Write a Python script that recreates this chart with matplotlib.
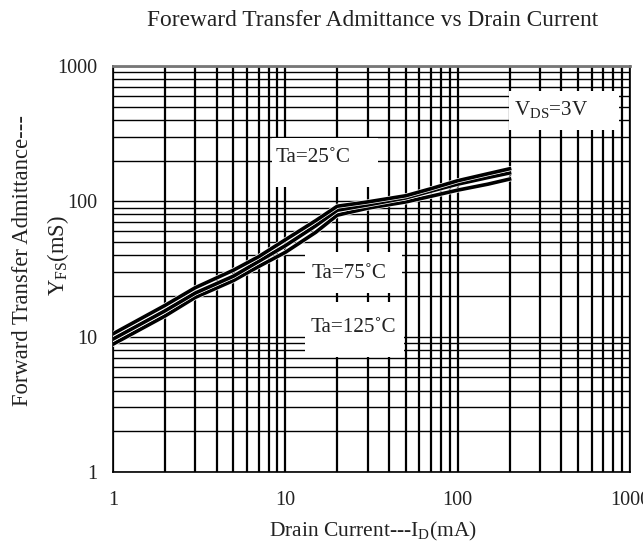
import numpy as np
import matplotlib
matplotlib.use('Agg')
import matplotlib.pyplot as plt
import matplotlib.patheffects as pe
from matplotlib.patches import Rectangle
from matplotlib.ticker import LogLocator, FixedFormatter, FixedLocator, NullFormatter

plt.rcParams['font.family'] = ['Liberation Serif', 'DejaVu Serif']
plt.rcParams['mathtext.fontset'] = 'custom'
plt.rcParams['mathtext.rm'] = 'Liberation Serif'

# drain current (mA) and forward transfer admittance (mS)
drain_current = [1, 2, 3, 5, 7, 10, 15, 20, 30, 50, 70, 100, 150, 200]
yfs_25 = [10.5, 17, 23, 31, 39, 52, 72, 92, 99, 110, 124, 142, 160, 174]
yfs_75 = [9.6, 15.5, 21, 28, 36, 47, 66, 86, 94, 106, 119, 134, 150, 162]
yfs_125 = [8.8, 14.2, 19.5, 26, 33, 42, 59, 79, 89, 99, 109, 121, 134, 146]

x_ticks = [1, 10, 100, 1000]
x_tick_labels = ['1', '10', '100', '1000']
y_ticks = [1, 10, 100, 1000]
y_tick_labels = ['1', '10', '100', '1000']

W, H = 643, 549
fig = plt.figure(figsize=(W / 100, H / 100), dpi=100)
ax = fig.add_axes([113 / W, (H - 472) / H, (630 - 113) / W, (472 - 66) / H])

ax.set_xscale('log')
ax.set_yscale('log')
ax.set_xlim(1, 1000)
ax.set_ylim(1, 1000)

ax.xaxis.set_major_locator(FixedLocator(x_ticks))
ax.xaxis.set_major_formatter(FixedFormatter(x_tick_labels))
ax.yaxis.set_major_locator(FixedLocator(y_ticks))
ax.yaxis.set_major_formatter(FixedFormatter(y_tick_labels))
ax.xaxis.set_minor_locator(LogLocator(base=10, subs=np.arange(2, 10)))
ax.yaxis.set_minor_locator(LogLocator(base=10, subs=np.arange(2, 10)))
ax.xaxis.set_minor_formatter(NullFormatter())
ax.yaxis.set_minor_formatter(NullFormatter())

ax.set_axisbelow(True)
ax.grid(True, which='both', axis='x', color='black', lw=1.6)
ax.grid(True, which='both', axis='y', color='black', lw=1.0)
ax.tick_params(which='both', length=0, labelsize=14.5, labelcolor='#222222')
ax.tick_params(axis='x', pad=14)
ax.tick_params(axis='y', pad=11)
for s in ax.spines.values():
    s.set_color('black')
    s.set_linewidth(1.2)
ax.spines['top'].set_color('#777777')
ax.spines['top'].set_linewidth(2)

stroke = [pe.Stroke(linewidth=3.6, foreground='white'), pe.Normal()]
for ys in (yfs_125, yfs_75, yfs_25):
    ax.plot(drain_current, ys, color='black', lw=2.6, path_effects=stroke,
            solid_joinstyle='miter', zorder=4)


def px2data(px, py):
    return 10 ** ((px - 113) / 172.3), 10 ** ((472 - py) / 135.3)


# white label boxes covering the grid (pixel extents)
boxes = [(509, 91, 619, 130), (272, 138, 378, 187), (305, 252, 402, 293), (305, 302, 404, 357)]
for x0, y0, x1, y1 in boxes:
    a = px2data(x0, y1)
    b = px2data(x1, y0)
    ax.add_patch(Rectangle(a, b[0] - a[0], b[1] - a[1], facecolor='white',
                           edgecolor='none', zorder=3))

labels = [(514, 110, r'V$_{\mathrm{DS}}$=3V'), (276, 158, 'Ta=25˚C'),
          (312, 274, 'Ta=75˚C'), (311, 328, 'Ta=125˚C')]
for px, py, t in labels:
    x, y = px2data(px, py)
    ax.text(x, y, t, fontsize=15.2, ha='left', va='center', zorder=5, color='#222222')

fig.text(373 / W, 1 - 20 / H, 'Foreward Transfer Admittance vs Drain Current',
         ha='center', va='center', fontsize=16.8, color='#222222')
fig.text(373 / W, 1 - 531 / H, r'Drain Current---I$_{\mathrm{D}}$(mA)',
         ha='center', va='center', fontsize=15.5, color='#222222')
fig.text(23 / W, 1 - 261 / H, 'Forward Transfer Admittance---',
         ha='center', va='center', rotation=90, fontsize=16.3, color='#222222')
fig.text(58 / W, 1 - 255 / H, r'Y$_{\mathrm{FS}}$(mS)',
         ha='center', va='center', rotation=90, fontsize=16.3, color='#222222')

fig.savefig('out.png', dpi=100)
